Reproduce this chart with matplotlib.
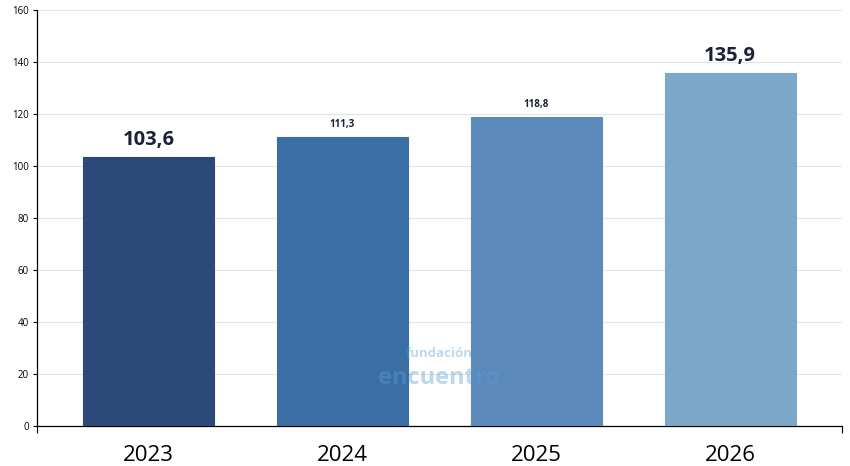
import numpy as np
from matplotlib import pyplot as plt

# Data
years = ["2023", "2024", "2025", "2026"]
values = [103.6, 111.3, 118.8, 135.9]
labels = ["103,6", "111,3", "118,8", "135,9"]
big_label = [True, False, False, True]
colors = ["#2b4a7a", "#3a6ea5", "#5a89ba", "#7ba7c8"]
yticks = [0, 20, 40, 60, 80, 100, 120, 140, 160]

plt.rcParams['font.family'] = ['Open Sans', 'DejaVu Sans']

fig = plt.figure(figsize=(8.5, 4.66), dpi=100)
ax = fig.add_axes([37/850, 40/466, 805/850, 416/466])

x = np.arange(len(years))
ax.bar(x, values, width=0.675, color=colors, edgecolor=colors, linewidth=0.8, zorder=3)

for xi, v, lab, big in zip(x, values, labels, big_label):
    if big:
        ax.annotate(lab, (xi, v), xytext=(0, 5), textcoords='offset points',
                    ha='center', va='bottom', fontsize=14.5, fontweight='bold', color='#1a2238')
    else:
        ax.annotate(lab, (xi, v), xytext=(0, 5), textcoords='offset points',
                    ha='center', va='bottom', fontsize=7, fontweight='bold', color='#1a2238')

ax.set_xlim(-0.575, 3.577)
ax.set_ylim(0, 160)
ax.set_yticks(yticks)
ax.set_yticklabels([str(t) for t in yticks], fontsize=7)
ax.set_xticks(x)
ax.set_xticklabels(years, fontsize=16)
ax.tick_params(axis='x', length=0, pad=14)
ax.tick_params(axis='y', length=3, width=0.8, pad=3)

# ticks at the ends of the category axis
ax.set_xticks([-0.575, 3.577], minor=True)
ax.tick_params(axis='x', which='minor', length=5, width=0.8, direction='out')

ax.grid(axis='y', color='#e4e4e4', linewidth=0.8, zorder=0)
ax.spines['top'].set_visible(False)
ax.spines['right'].set_visible(False)
ax.spines['left'].set_linewidth(0.9)
ax.spines['bottom'].set_linewidth(0.9)

# watermark
ax.text(1.5, 25.5, "fundación", ha='center', va='bottom', fontsize=9.5, fontweight='bold',
        color='#5a9fd4', alpha=0.4, zorder=4)
ax.text(1.5, 18.5, "encuentro", ha='center', va='center', fontsize=17, fontweight='bold',
        color='#5a9fd4', alpha=0.4, zorder=4)

fig.savefig("out.png", dpi=100)
